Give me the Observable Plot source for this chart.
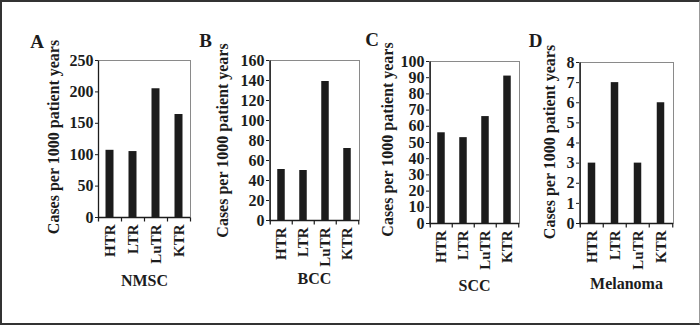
<!DOCTYPE html>
<html><head><meta charset="utf-8">
<script src="https://cdn.jsdelivr.net/npm/d3@7"></script>
<script src="https://cdn.jsdelivr.net/npm/@observablehq/plot@0.6"></script>
<style>
html,body{margin:0;padding:0;background:#fff;}
#wrap{position:relative;width:700px;height:325px;overflow:hidden;background:#fff;}
#wrap svg{position:absolute;left:0;top:0;}
#border{position:absolute;left:0;top:0;width:700px;height:325px;box-sizing:border-box;border:2px solid #333;border-right:1px solid #999;pointer-events:none;z-index:5;}
</style></head><body>
<div id="wrap"><div id="border"></div></div>
<script>
const categories = ["HTR", "LTR", "LuTR", "KTR"];
const nmscValues = [107, 105, 205, 164];
const bccValues = [51, 50, 139, 72];
const sccValues = [56, 53, 66, 91];
const melanomaValues = [3, 7, 3, 6];
const nmscTicks = [0, 50, 100, 150, 200, 250];
const bccTicks = [0, 20, 40, 60, 80, 100, 120, 140, 160];
const sccTicks = [0, 10, 20, 30, 40, 50, 60, 70, 80, 90, 100];
const melanomaTicks = [0, 1, 2, 3, 4, 5, 6, 7, 8];
const panelLetters = ["A", "B", "C", "D"];
const panelNames = ["NMSC", "BCC", "SCC", "Melanoma"];
const yTitle = "Cases per 1000 patient years";

const W = 700, H = 325;
const layouts = [
  {left: 98, right: 190, top: 60, bottom: 217, letterDx: -61.5, letterDy: -19, titleDx: -45, titleDy: -2, nameDy: 63},
  {left: 269, right: 359, top: 60, bottom: 220, letterDx: -64, letterDy: -20, titleDx: -47, titleDy: 0, nameDy: 58},
  {left: 429, right: 519, top: 61, bottom: 223, letterDx: -57.5, letterDy: -21.5, titleDx: -42, titleDy: -3, nameDy: 62},
  {left: 579, right: 673, top: 62, bottom: 223, letterDx: -44, letterDy: -22, titleDx: -30, titleDy: -1, nameDy: 60}
];

function panel(i, values, ticks) {
  const L = layouts[i];
  const innerW = L.right - L.left, innerH = L.bottom - L.top;
  const step = innerW / categories.length;
  const barW = 8;
  const inset = (step - barW) / 2;
  const data = categories.map((c, j) => ({cat: c, value: values[j]}));
  const tickDown = {draw(ctx) { ctx.moveTo(0, 0); ctx.lineTo(0, 4); }};
  const axisLeft = {draw(ctx) { ctx.moveTo(0, 4); ctx.lineTo(0, -innerH); }};
  const ink = "#1c1c1c";
  return Plot.plot({
    width: W, height: H,
    marginLeft: L.left, marginRight: W - L.right, marginTop: L.top, marginBottom: H - L.bottom,
    style: {background: "transparent", fontFamily: "'Liberation Serif', 'Times New Roman', serif", fontSize: "16px", fontWeight: "bold", color: ink},
    x: {type: "band", domain: categories, padding: 0, axis: null},
    y: {domain: [0, ticks[ticks.length - 1]], ticks: ticks, tickSize: 3, tickPadding: 2, label: null},
    marks: [
      Plot.frame({stroke: "#8a8a8a"}),
      Plot.barY(data, {x: "cat", y: "value", fill: ink, insetLeft: inset, insetRight: inset}),
      Plot.ruleY([0], {stroke: ink, strokeWidth: 1.3}),
      Plot.dot(categories.slice(1), {x: d => d, y: () => 0, dx: -step / 2, symbol: tickDown, stroke: ink, fill: "none", strokeWidth: 1.2}),
      Plot.dot([categories[categories.length - 1]], {x: d => d, y: () => 0, dx: step / 2, symbol: tickDown, stroke: ink, fill: "none", strokeWidth: 1.2}),
      Plot.dot([categories[0]], {x: d => d, y: () => 0, dx: -step / 2, symbol: axisLeft, stroke: ink, fill: "none", strokeWidth: 1.3}),
      Plot.text(categories, {x: d => d, frameAnchor: "bottom", dy: 7, rotate: -90, textAnchor: "end", lineAnchor: "middle", fontSize: 15}),
      Plot.text([panelNames[i]], {frameAnchor: "bottom", dy: L.nameDy, textAnchor: "middle", lineAnchor: "middle", fontSize: 16}),
      Plot.text([yTitle], {frameAnchor: "left", dx: L.titleDx, dy: L.titleDy, rotate: -90, textAnchor: "middle", lineAnchor: "middle", fontSize: 16}),
      Plot.text([panelLetters[i]], {frameAnchor: "top-left", dx: L.letterDx, dy: L.letterDy, textAnchor: "middle", lineAnchor: "middle", fontSize: 19})
    ]
  });
}

const wrap = document.getElementById("wrap");
[nmscValues, bccValues, sccValues, melanomaValues].forEach((vals, i) => {
  const t = [nmscTicks, bccTicks, sccTicks, melanomaTicks][i];
  wrap.appendChild(panel(i, vals, t));
});
</script>
</body></html>
